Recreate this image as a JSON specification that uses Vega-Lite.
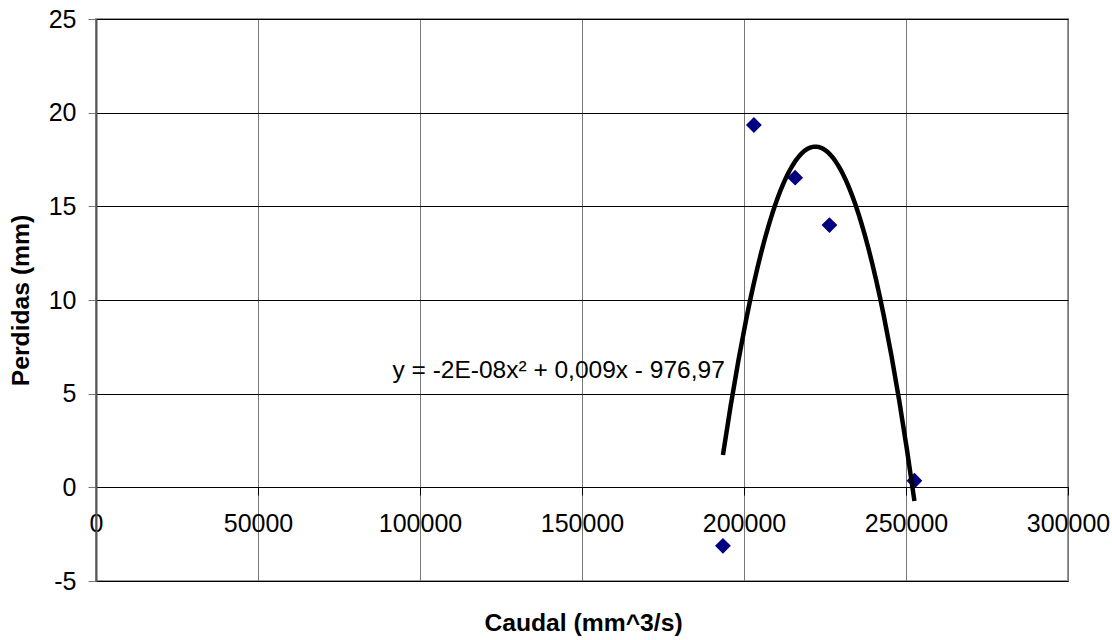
{
  "$schema": "https://vega.github.io/schema/vega-lite/v6.json",
  "autosize": {"type": "none"},
  "width": 972,
  "height": 562,
  "padding": {"left": 96, "top": 19, "right": 44, "bottom": 59},
  "background": "white",
  "config": {
    "font": "Liberation Sans",
    "view": {"stroke": "#999999", "strokeWidth": 2},
    "axis": {"labelFont": "Liberation Sans", "titleFont": "Liberation Sans", "labelColor": "#000000", "titleColor": "#000000"}
  },
  "datasets": {
    "pts": [
      {"caudal": 193500, "perdidas": -3.12},
      {"caudal": 203050, "perdidas": 19.34},
      {"caudal": 215790, "perdidas": 16.53},
      {"caudal": 226370, "perdidas": 14.0},
      {"caudal": 252600, "perdidas": 0.35}
    ]
  },
  "layer": [
    {
      "data": {"name": "pts"},
      "mark": {"type": "point", "shape": "diamond", "filled": true, "color": "#000080", "size": 250, "opacity": 1},
      "encoding": {
        "x": {
          "field": "caudal", "type": "quantitative",
          "scale": {"domain": [0, 300000], "nice": false, "zero": false},
          "axis": {
            "title": "Caudal (mm^3/s)", "orient": "bottom", "offset": -94,
            "values": [0, 50000, 100000, 150000, 200000, 250000, 300000],
            "labelExpr": "'' + datum.value", "labelFontSize": 25, "labelPadding": 16,
            "labelOverlap": false, "labelFlush": false,
            "tickSize": 8, "tickColor": "#000000", "domainColor": "#000000", "domainWidth": 1,
            "grid": true, "gridColor": "#777777", "gridWidth": 1,
            "titleFontSize": 24.7, "titleFontWeight": "bold",
            "titleX": 487, "titleY": 136, "titleBaseline": "middle", "titleAlign": "center"
          }
        },
        "y": {
          "field": "perdidas", "type": "quantitative",
          "scale": {"domain": [-5, 25], "nice": false, "zero": false},
          "axis": {
            "title": "Perdidas (mm)",
            "values": [-5, 0, 5, 10, 15, 20, 25],
            "labelExpr": "'' + datum.value", "labelFontSize": 25, "labelPadding": 12,
            "tickSize": 8, "tickColor": "#777777", "domainColor": "#555555", "domainWidth": 2,
            "grid": true, "gridColor": "#000000", "gridWidth": 1,
            "titleFontSize": 24.7, "titleFontWeight": "bold",
            "titleX": -75, "titleY": 281, "titleAngle": -90, "titleAlign": "center", "titleBaseline": "middle"
          }
        }
      }
    },
    {
      "data": {"name": "pts"},
      "transform": [{"regression": "perdidas", "on": "caudal", "method": "poly", "order": 2}],
      "mark": {"type": "line", "color": "#000000", "strokeWidth": 4.5},
      "encoding": {
        "x": {"field": "caudal", "type": "quantitative"},
        "y": {"field": "perdidas", "type": "quantitative"}
      }
    },
    {
      "data": {"values": [{"x": 91500, "y": 6.2, "label": "y = -2E-08x² + 0,009x - 976,97"}]},
      "mark": {"type": "text", "align": "left", "baseline": "middle", "fontSize": 24.5, "color": "#000000"},
      "encoding": {
        "x": {"field": "x", "type": "quantitative"},
        "y": {"field": "y", "type": "quantitative"},
        "text": {"field": "label"}
      }
    }
  ]
}
